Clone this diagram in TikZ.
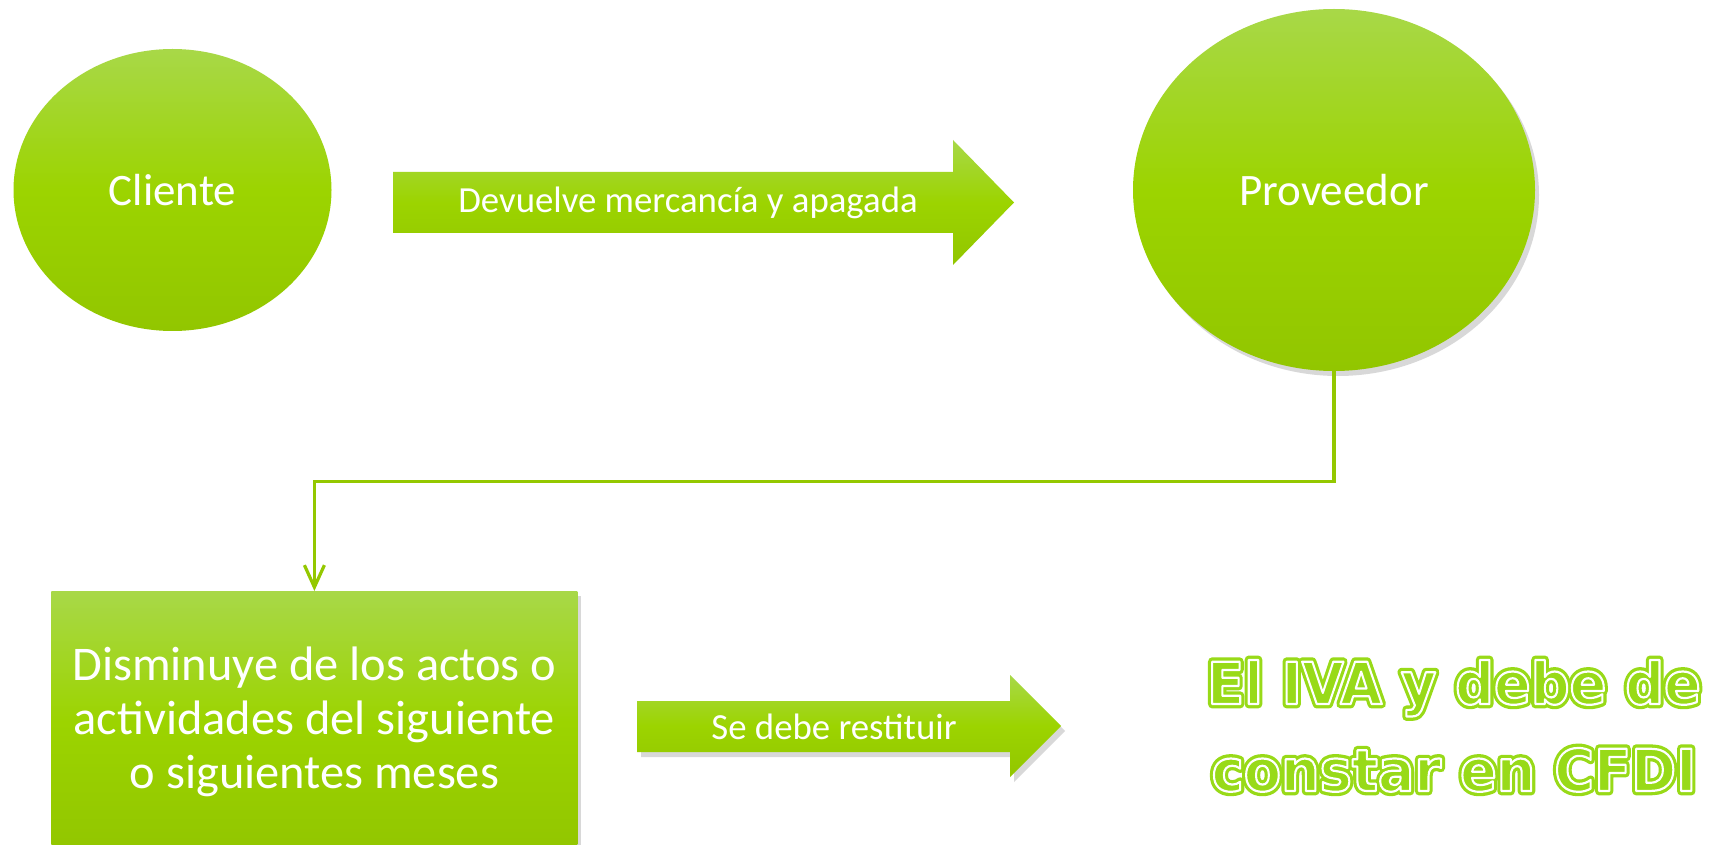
\documentclass[tikz,border=0pt]{standalone}
\usepackage{fontspec}
\usepackage{graphicx}
\setmainfont{Carlito}
\newfontfamily\wafont{DejaVu Sans}
\usetikzlibrary{shapes.geometric,shadows,arrows.meta}
\definecolor{gtop}{RGB}{168,216,72}
\definecolor{gmid}{RGB}{156,212,0}
\definecolor{gbot}{RGB}{146,198,0}
\definecolor{gline}{RGB}{148,200,0}
\definecolor{glow}{RGB}{152,218,24}
\newcommand\halotext[1]{{\color{glow}\special{pdf:literal direct 2 Tr 4.4 w 1 j 1 J}#1\special{pdf:literal direct 0 Tr 1 w 0 j 0 J}}}
\newcommand\ringtext[1]{{\color{glow}\special{pdf:literal direct 1 1 1 RG 2 Tr 1.1 w 1 j}#1\special{pdf:literal direct 0 Tr 1 w 0 j}}}
\newcommand\wordart[1]{\scalebox{0.935}[1]{\rlap{\halotext{#1}}\ringtext{#1}}}
\tikzset{
  gfill/.style={top color=gtop, bottom color=gbot, middle color=gmid, draw=none},
  shad/.style={drop shadow={opacity=0.3, shadow xshift=2pt, shadow yshift=-2.5pt}},
  lbl/.style={text=white, font=\fontsize{18.4}{22}\selectfont, inner sep=0pt},
  circ/.style={ellipse, gfill, text=white, font=\fontsize{22.5}{27}\selectfont, inner sep=0pt},
  conn/.style={draw=gline, line width=1.6pt, -{Straight Barb[length=11pt,width=10pt]}},
  wa/.style={anchor=base, inner sep=0pt, font=\wafont\bfseries\fontsize{29}{34}\selectfont},
}
\begin{document}
\begin{tikzpicture}[x=0.5pt,y=-0.5pt]
\useasboundingbox (0,0) rectangle (1714,845);
\fill[white] (0,0) rectangle (1714,845);
% ellipses
\node[circ, minimum width=159pt, minimum height=141pt] (cli) at (172.5,190) {Cliente};
\node[circ, shad, minimum width=201pt, minimum height=181pt] (prov) at (1334,190) {Proveedor};
% arrow 1
\path[gfill] (393,172) -- (953,172) -- (953,140) -- (1014,202.5) -- (953,265) -- (953,233) -- (393,233) -- cycle;
\node[lbl] (a1) at (688,203) {Devuelve mercancía y apagada};
% box
\node[gfill, shad, rectangle, minimum width=263pt, minimum height=130pt, anchor=north west, inner sep=0pt,
  text=white, align=center, font=\fontsize{24.2}{27}\selectfont] (box) at (51,591)
  {Disminuye de los actos o\\actividades del siguiente\\o siguientes meses};
% arrow 2
\path[gfill, shad] (637,701) -- (1010,701) -- (1010,675) -- (1061,726) -- (1010,777) -- (1010,752) -- (637,752) -- cycle;
\node[lbl] (a2) at (834,727) {Se debe restituir};
% connector
\draw[conn] (prov.south) -- ++(0,110) -| (box.north);
% word art
\node[wa] (w1) at (1454,704) {\wordart{El IVA y debe de}};
\node[wa] (w2) at (1454,791) {\wordart{constar en CFDI}};
\end{tikzpicture}
\end{document}
